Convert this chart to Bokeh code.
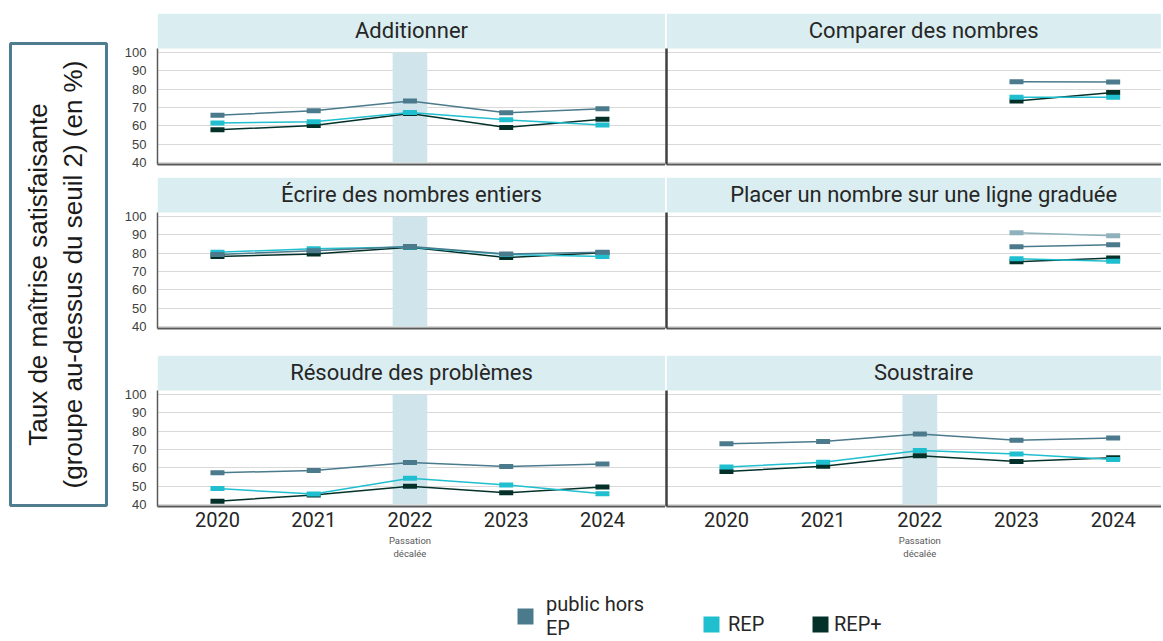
import math
from bokeh.plotting import figure
from bokeh.layouts import row, column
from bokeh.models import (Range1d, FixedTicker, BoxAnnotation, Label, LinearAxis,
                          Legend, LegendItem, ColumnDataSource)
from bokeh.embed import file_html
from bokeh.resources import INLINE

NaN = float("nan")

# ---------------- data ----------------
years = [2020, 2021, 2022, 2023, 2024]
series_names = ["public hors EP", "REP", "REP+"]
legend_labels = ["public hors\nEP", "REP", "REP+"]
y_ticks = [40, 50, 60, 70, 80, 90, 100]
highlight_year = 2022
x_note = "Passation\ndécalée"
y_title = ["Taux de maîtrise satisfaisante", "(groupe au-dessus du seuil 2) (en %)"]

panel_titles = ["Additionner", "Comparer des nombres",
                "Écrire des nombres entiers", "Placer un nombre sur une ligne graduée",
                "Résoudre des problèmes", "Soustraire"]

additionner_public = [65.8, 68.2, 73.6, 67.1, 69.3]
additionner_rep = [61.5, 62.2, 67.3, 63.3, 60.5]
additionner_rep_plus = [57.8, 60.2, 66.7, 59.1, 63.6]

comparer_public = [NaN, NaN, NaN, 84.1, 83.9]
comparer_rep = [NaN, NaN, NaN, 75.6, 75.6]
comparer_rep_plus = [NaN, NaN, NaN, 73.6, 78.2]

ecrire_public = [79.3, 81.3, 83.6, 79.5, 80.5]
ecrire_rep = [80.5, 82.4, 83.3, 79.3, 78.2]
ecrire_rep_plus = [78.2, 79.6, 83.2, 77.6, 80.2]

placer_public = [NaN, NaN, NaN, 83.5, 84.6]
placer_rep = [NaN, NaN, NaN, 76.9, 75.6]
placer_rep_plus = [NaN, NaN, NaN, 75.3, 77.4]
placer_other = [NaN, NaN, NaN, 91.1, 89.5]

resoudre_public = [57.3, 58.6, 62.9, 60.7, 62.1]
resoudre_rep = [48.7, 45.7, 54.3, 50.7, 45.9]
resoudre_rep_plus = [41.8, 45.2, 50.0, 46.4, 49.5]

soustraire_public = [73.1, 74.3, 78.4, 75.0, 76.3]
soustraire_rep = [60.4, 63.0, 69.5, 67.5, 64.5]
soustraire_rep_plus = [58.0, 60.9, 66.6, 63.5, 65.5]

legend_dummy = [NaN]

# ---------------- styles ----------------
C_PUBLIC = "#4a7a8c"
C_REP = "#20bfcf"
C_REPP = "#04302a"
C_OTHER = "#8fb1bc"
BAND = "#daedf0"
HIGHLIGHT = "#cfe5eb"
TITLE_FONT = "Roboto"

Y_RANGE = (38.91, 121.27)
BAND_BOTTOM = 102.18
TITLE_Y = 112.0
FRAME_H = 151


def make_panel(title, series, is_left, top_b, bottom_b, show_x, highlight):
    if is_left:
        xr = Range1d(2019.377, 2024.655)
        fw, ml = 508, 45
    else:
        xr = Range1d(2019.38, 2024.50)
        fw, ml = 495, 1
    p = figure(frame_width=fw, frame_height=FRAME_H, x_range=xr,
               y_range=Range1d(*Y_RANGE), output_backend="svg",
               toolbar_location=None, min_border_left=ml, min_border_right=0,
               min_border_top=top_b, min_border_bottom=bottom_b)
    p.outline_line_color = None
    p.background_fill_color = "white"
    p.border_fill_color = "white"

    # grid
    p.xgrid.grid_line_color = None
    p.ygrid.ticker = FixedTicker(ticks=y_ticks)
    p.ygrid.grid_line_color = "#d9d9d9"
    p.ygrid.grid_line_width = 1

    # y axis
    p.yaxis.bounds = (Y_RANGE[0], BAND_BOTTOM)
    p.yaxis.major_tick_line_color = None
    p.yaxis.minor_tick_line_color = None
    p.yaxis.major_tick_out = 0
    if is_left:
        p.yaxis.ticker = FixedTicker(ticks=y_ticks)
        p.yaxis.axis_line_color = "#595959"
        p.yaxis.axis_line_width = 1.5
        p.yaxis.major_label_text_font = "Liberation Sans"
        p.yaxis.major_label_text_font_size = "13px"
        p.yaxis.major_label_text_color = "#404040"
        p.yaxis.major_label_standoff = 11
    else:
        p.yaxis.ticker = FixedTicker(ticks=[])
        p.yaxis.axis_line_color = "#404040"
        p.yaxis.axis_line_width = 2.5
        p.yaxis.major_label_standoff = 0

    # x axis
    p.xaxis.axis_line_color = "#595959"
    p.xaxis.axis_line_width = 2
    p.xaxis.major_tick_line_color = None
    p.xaxis.minor_tick_line_color = None
    p.xaxis.major_tick_out = 0
    if show_x:
        p.xaxis.ticker = FixedTicker(ticks=years)
        p.xaxis.major_label_text_font = TITLE_FONT
        p.xaxis.major_label_text_font_size = "20px"
        p.xaxis.major_label_text_color = "#262626"
        p.xaxis.major_label_standoff = 5
        note_axis = LinearAxis(ticker=FixedTicker(ticks=[highlight_year]),
                               major_label_overrides={highlight_year: x_note},
                               axis_line_color=None, major_tick_line_color=None,
                               minor_tick_line_color=None, major_tick_out=0,
                               major_label_text_font="Roboto",
                               major_label_text_font_size="9.5px",
                               major_label_text_color="#595959",
                               major_label_standoff=5)
        p.add_layout(note_axis, "below")
    else:
        p.xaxis.ticker = FixedTicker(ticks=[])
        p.xaxis.major_label_standoff = 0

    # title band
    p.add_layout(BoxAnnotation(bottom=BAND_BOTTOM, fill_color=BAND, fill_alpha=1,
                               line_color=None, level="underlay"))
    if highlight:
        p.add_layout(BoxAnnotation(left=highlight_year - 0.18, right=highlight_year + 0.18,
                                   bottom=40, top=100, fill_color=HIGHLIGHT, fill_alpha=1,
                                   line_color=None, level="underlay"))
    cx = (xr.start + xr.end) / 2 + (0.0 if is_left else 0.1)
    p.add_layout(Label(x=cx, y=TITLE_Y, text=title, text_align="center",
                       text_baseline="middle", text_font=TITLE_FONT,
                       text_font_size="22px", text_color="#262626"))

    for vals, col in series:
        src = ColumnDataSource(dict(x=years, y=vals))
        p.line("x", "y", source=src, line_color=col, line_width=1.5)
        p.rect("x", "y", source=src, width=14, height=5, width_units="screen",
               height_units="screen", fill_color=col, line_color=None)
    return p


def ser(public, rep, repp, other=None):
    s = [(repp, C_REPP), (rep, C_REP), (public, C_PUBLIC)]
    if other is not None:
        s.append((other, C_OTHER))
    return s


p1 = make_panel(panel_titles[0], ser(additionner_public, additionner_rep, additionner_rep_plus), True, 13, 8, False, True)
p2 = make_panel(panel_titles[1], ser(comparer_public, comparer_rep, comparer_rep_plus), False, 13, 8, False, False)
p3 = make_panel(panel_titles[2], ser(ecrire_public, ecrire_rep, ecrire_rep_plus), True, 5, 22, False, True)
p4 = make_panel(panel_titles[3], ser(placer_public, placer_rep, placer_rep_plus, placer_other), False, 5, 22, False, False)
p5 = make_panel(panel_titles[4], ser(resoudre_public, resoudre_rep, resoudre_rep_plus), True, 5, 60, True, True)
p6 = make_panel(panel_titles[5], ser(soustraire_public, soustraire_rep, soustraire_rep_plus), False, 5, 60, True, True)

# y title box
yl = figure(frame_width=96, frame_height=462, x_range=Range1d(0, 1), y_range=Range1d(0, 1),
            min_border_left=10, min_border_right=6, min_border_top=43, min_border_bottom=61,
            x_axis_location=None, y_axis_location=None,
            output_backend="svg", toolbar_location=None)
yl.grid.visible = False
yl.outline_line_color = "#4f7d8f"
yl.outline_line_width = 3
for xpos, txt in zip([0.29, 0.65], y_title):
    yl.add_layout(Label(x=xpos, y=0.5, text=txt, angle=math.pi / 2, text_align="center",
                        text_baseline="middle", text_font="Liberation Sans",
                        text_font_size="26px", text_color="#1a1a1a"))

# legend figure
lf = figure(frame_width=1161, frame_height=74, x_range=Range1d(0, 1), y_range=Range1d(0, 1),
            min_border=0, x_axis_location=None, y_axis_location=None,
            output_backend="svg", toolbar_location=None)
lf.grid.visible = False
lf.outline_line_color = None
leg_pos = [(515, 0, 11), (701, 4, 7), (810, 4, 4)]
for lab, col, (lx, ly, so) in zip(legend_labels, [C_PUBLIC, C_REP, C_REPP], leg_pos):
    r = lf.rect(x=legend_dummy, y=legend_dummy, width=1, height=1, fill_color=col, line_color=None)
    leg = Legend(items=[LegendItem(label=lab, renderers=[r])], location=(lx, ly),
                 orientation="horizontal", padding=0, margin=0, spacing=0,
                 glyph_width=20, glyph_height=20, label_standoff=so,
                 label_text_font="Roboto", label_text_font_size="20px",
                 label_text_color="#262626", border_line_color=None,
                 background_fill_alpha=0)
    lf.add_layout(leg)

layout = column(row(yl, column(p1, p3, p5), column(p2, p4, p6)), lf)

open("out.html", "w").write(file_html(layout, INLINE))
